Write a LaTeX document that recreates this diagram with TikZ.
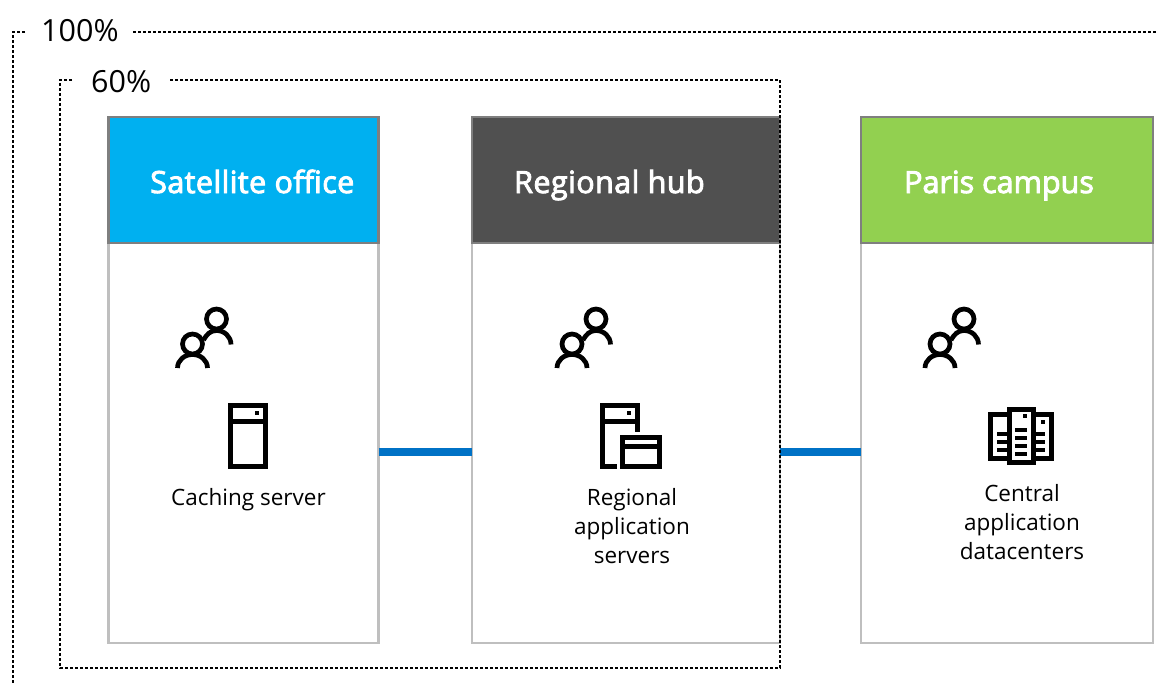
\documentclass[tikz,border=0pt]{standalone}
\usepackage{fontspec}
\setmainfont{Open Sans}
\definecolor{sat}{HTML}{00B0F0}
\definecolor{hub}{HTML}{505050}
\definecolor{par}{HTML}{92D050}
\definecolor{lnk}{HTML}{0072C6}
\definecolor{edge}{HTML}{BFBFBF}
\definecolor{hedge}{HTML}{7F7F7F}
\newfontfamily\headfont[FakeBold=3]{Open Sans}
\newfontfamily\headspaced[FakeBold=3,LetterSpace=1.4]{Open Sans}
\tikzset{
  scopebox/.style={draw=black,line width=2.1pt,dash pattern=on 3pt off 2pt},
  panel/.style={minimum height=#1,inner sep=0pt,outer sep=0pt,anchor=north west},
  body/.style={panel=400,draw=edge,line width=2.4pt,fill=white},
  head/.style={panel=126,draw=hedge,line width=2.4pt},
  headtxt/.style={text=white,font=\fontsize{30.5}{31}\selectfont\headspaced,anchor=base west,inner sep=0pt},
  pct/.style={text=black,font=\fontsize{30.5}{30.5}\selectfont,anchor=base west,inner sep=0pt},
  captxt/.style={text=black,font=\fontsize{22.5}{29}\selectfont,align=center,anchor=north,inner sep=0pt},
  icon/.style={draw=black,line width=4.7pt,fill=none},
  boxicon/.style={draw=black,line width=5pt,fill=none},
  link/.style={draw=lnk,line width=8pt},
  pix/.style={fill=black,draw=none}
}
\newcommand{\people}[2]{%
  \begin{scope}[shift={(#1,#2)}]
    \draw[icon] (0,0) circle (10);
    \draw[icon] (-24,25) circle (10);
    \draw[icon] (-13,21) to[out=60,in=180] (0,11.5) to[out=0,in=90] (14.5,25.5);
    \draw[icon] (-39,49) to[out=90,in=180] (-24,35.5) to[out=0,in=90] (-9,49);
  \end{scope}}
\begin{document}
\begin{tikzpicture}[x=1pt,y=-1pt]
\useasboundingbox (0,0) rectangle (1157,683);
% scope outlines
\coordinate (oa) at (25,32); \coordinate (ob) at (13,32); \coordinate (oc) at (13,683);
\coordinate (od) at (133,32); \coordinate (oe) at (1157,32);
\draw[scopebox] (oa) -- (ob) -- (oc);
\draw[scopebox] (od) -- (oe);
\coordinate (ia) at (72,80); \coordinate (ib) at (60,80); \coordinate (ic) at (60,668);
\coordinate (id) at (780,668); \coordinate (ie) at (780,80); \coordinate (if) at (170,80);
\node[pct] (p100) at (41,41) {100\%};
\node[pct] (p60) at (91,92) {60\%};
% bodies
\node[body,minimum width=270] (b1) at (108.5,243) {};
\node[body,minimum width=308] (b2) at (472,243) {};
\node[body,minimum width=292] (b3) at (861,243) {};
\node[head,fill=sat,minimum width=270] (h1) at (108.5,117) {};
\node[head,fill=hub,minimum width=308] (h2) at (472,117) {};
\node[head,fill=par,minimum width=292] (h3) at (861,117) {};
\node[headtxt] (t1) at (150,193) {Satellite office};
\node[headtxt] (t2) at (514,193) {Regional hub};
\node[headtxt,font=\fontsize{30.5}{31}\selectfont\headfont] (t3) at (904,193) {Paris campus};
% links
\draw[link] (b1.east |- 0,452) coordinate (l1a) -- (b2.west |- 0,452) coordinate (l1b);
\draw[link] (b2.east |- 0,452) coordinate (l2a) -- (b3.west |- 0,452) coordinate (l2b);
\draw[scopebox] (ia) -- (ib) -- (ic) -- (id) -- (ie) -- (if);
% people
\people{216.5}{319}
\people{596}{319}
\people{964}{319}
% caching server
\draw[boxicon] (230,405) rectangle (265,466);
\draw[boxicon] (230,421) -- (265,421);
\fill[pix] (255,411) rectangle (259,415);
% regional server
\draw[boxicon] (617,466) -- (602,466) -- (602,405) -- (637,405) -- (637,432);
\draw[boxicon] (602,421) -- (637,421);
\fill[pix] (627,411) rectangle (631,415);
\draw[boxicon] (622,437) rectangle (659,466);
\draw[boxicon] (622,446.5) -- (659,446.5);
% datacenter
\draw[boxicon] (990,414) rectangle (1051,458);
\draw[boxicon,fill=white] (1009,409) rectangle (1033,462);
\fill[pix] (1023,414) rectangle (1027,418);
\fill[pix] (1041,420) rectangle (1045,424);
\foreach \y in {430,438,445.5,453.5}{
  \fill[pix] (1015,\y-2) rectangle (1027,\y+2);
}
\foreach \y in {434,442,450}{
  \fill[pix] (997,\y-2) rectangle (1007,\y+2);
  \fill[pix] (1035,\y-2) rectangle (1045,\y+2);
}
% captions
\node[captxt] (c1) at (248.5,488) {Caching server};
\node[captxt] (c2) at (632,488) {Regional\\application\\servers};
\node[captxt] (c3) at (1022,484.5) {Central\\application\\datacenters};
\end{tikzpicture}
\end{document}
